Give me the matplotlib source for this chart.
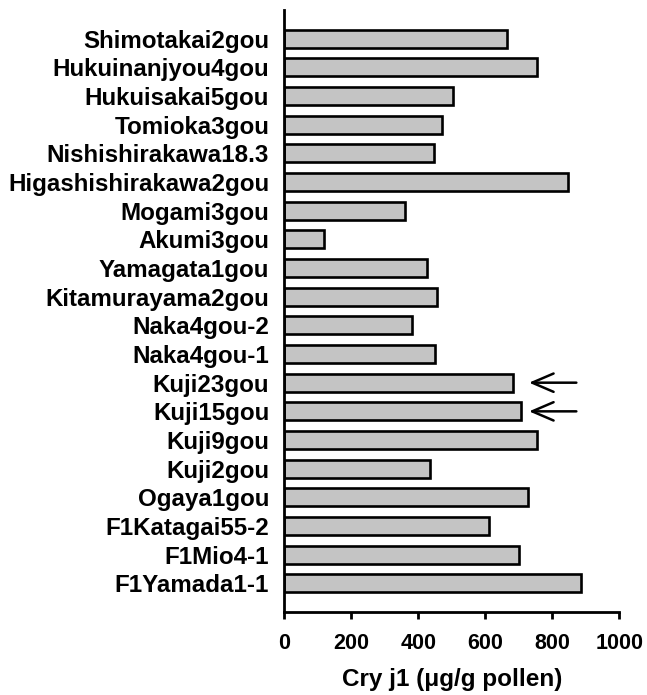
import matplotlib
matplotlib.use("Agg")
import matplotlib.pyplot as plt
import numpy as np

plt.rcParams['font.family'] = ['Liberation Sans', 'DejaVu Sans']
plt.rcParams['font.weight'] = 'bold'

# top to bottom as in the figure
cultivars = ["Shimotakai2gou", "Hukuinanjyou4gou", "Hukuisakai5gou", "Tomioka3gou",
             "Nishishirakawa18.3", "Higashishirakawa2gou", "Mogami3gou", "Akumi3gou",
             "Yamagata1gou", "Kitamurayama2gou", "Naka4gou-2", "Naka4gou-1",
             "Kuji23gou", "Kuji15gou", "Kuji9gou", "Kuji2gou", "Ogaya1gou",
             "F1Katagai55-2", "F1Mio4-1", "F1Yamada1-1"]
cry_j1 = [666, 753, 502, 470, 448, 848, 361, 119, 426, 456, 381, 451,
          681, 705, 755, 434, 728, 610, 700, 887]
marked = ["Kuji23gou", "Kuji15gou"]
xticks = [0, 200, 400, 600, 800, 1000]

fig = plt.figure(figsize=(6.47, 6.95), dpi=100)
ax = fig.add_axes([0.4397, 0.1194, 0.5175, 0.8662])

n = len(cultivars)
ypos = np.arange(n)[::-1]
ax.barh(ypos, cry_j1, height=0.62, color='#c4c4c4', edgecolor='black', linewidth=1.9)

for name in marked:
    i = cultivars.index(name)
    ax.annotate("", xy=(722, ypos[i]), xytext=(880, ypos[i]),
                arrowprops=dict(arrowstyle='->,head_length=0.7,head_width=0.3',
                                lw=1.8, color='black', mutation_scale=22))

ax.set_xlim(0, 1000)
ax.set_ylim(-1, n)
ax.set_xticks(xticks)
ax.set_xticklabels([str(t) for t in xticks], fontsize=15.5, fontweight='bold')
ax.set_yticks(ypos)
ax.set_yticklabels(cultivars, fontsize=17.4, fontweight='bold')
ax.tick_params(axis='y', length=0, pad=11)
ax.tick_params(axis='x', direction='out', length=5, width=2, pad=10)
for s in ['top', 'right']:
    ax.spines[s].set_visible(False)
for s in ['left', 'bottom']:
    ax.spines[s].set_linewidth(2)
ax.set_xlabel("Cry j1 (\u03bcg/g pollen)", fontsize=17.5, fontweight='bold', labelpad=10)

fig.savefig("out.png", dpi=100)
